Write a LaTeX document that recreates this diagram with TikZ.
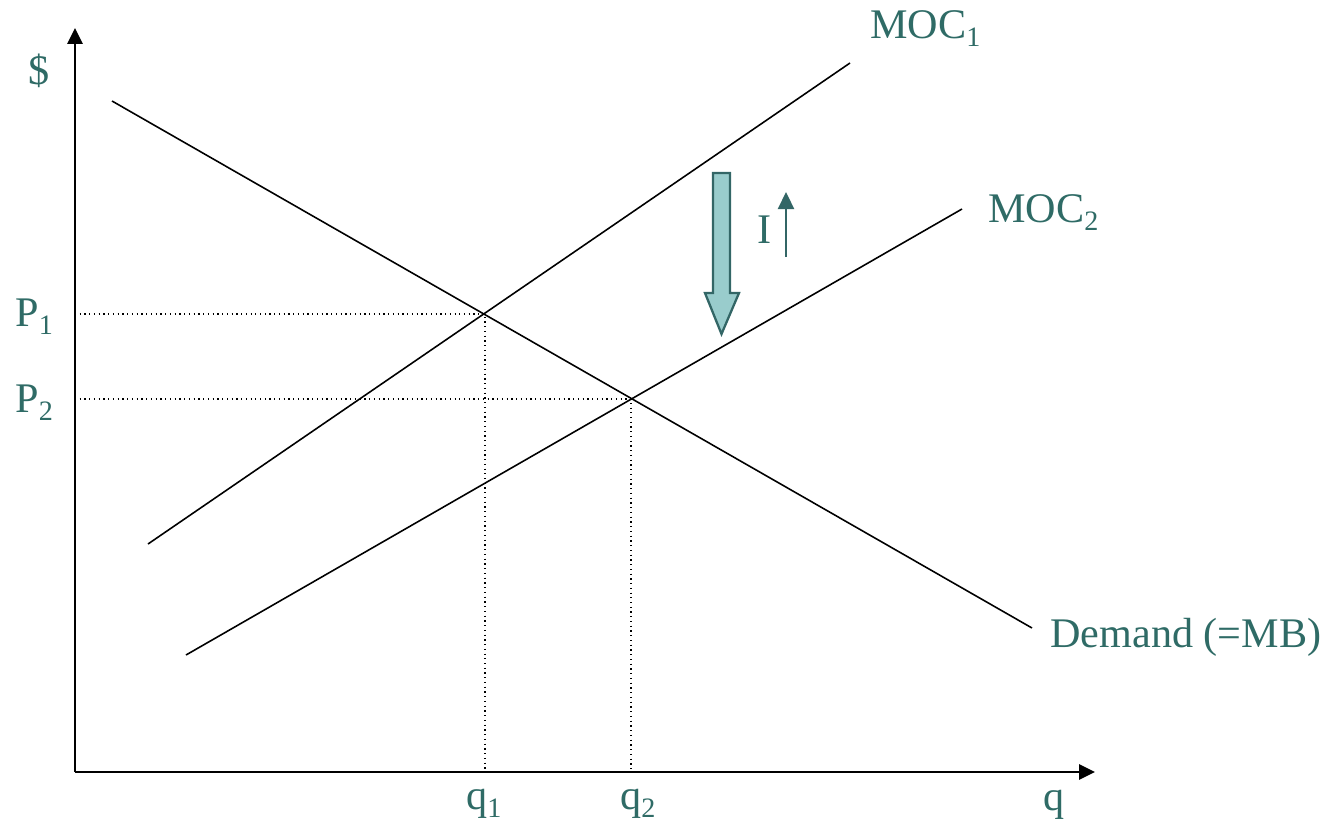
\documentclass[tikz,border=0pt]{standalone}
\usepackage{fontspec}
\setmainfont{Liberation Serif}
\usetikzlibrary{arrows.meta,positioning}
\definecolor{tealtext}{HTML}{2F6B66}
\definecolor{tealfill}{HTML}{99CCCC}
\definecolor{tealedge}{HTML}{336666}
\newcommand{\lowsub}[1]{\raisebox{-5pt}{\fontsize{16}{18}\selectfont #1}}
\tikzset{axisline/.style={line width=1.6pt,-{Triangle[length=3.2mm,width=3mm]}},
  curve/.style={line width=.9pt,black},
  guide/.style={line width=.7pt,dotted},
  lbl/.style={text=tealtext,font=\fontsize{24}{28}\selectfont,inner sep=0pt,anchor=base west},
  bigarrow/.style={draw=tealedge,fill=tealfill,line width=1.3pt,line join=miter}}

\begin{document}
\begin{tikzpicture}[x=0.02cm,y=-0.02cm]
\useasboundingbox (0,0) rectangle (1325,825);
% axes
\coordinate (O) at (75,772);
\coordinate (ytop) at (75,28);
\coordinate (xend) at (1095,772);
\draw[axisline] (O) -- (ytop);
\draw[axisline] (O) -- (xend);
% curves
\coordinate (d1) at (112,101);
\coordinate (d2) at (1032,628);
\coordinate (m1a) at (148,544);
\coordinate (m1b) at (850,63);
\coordinate (m2a) at (186,655);
\coordinate (m2b) at (962,209);
\draw[curve] (d1) -- (d2);
\draw[curve] (m1a) -- (m1b);
\draw[curve] (m2a) -- (m2b);
% equilibria
\coordinate (e1) at (485,314);
\coordinate (e2) at (631,399);
\draw[guide] (O |- e1) -- (e1) -- (e1 |- O);
\draw[guide] (O |- e2) -- (e2) -- (e2 |- O);
% labels
\node[lbl] (dollar) at (28,84) {\$};
\node[lbl] (p1) at (15,326) {P\lowsub{1}};
\node[lbl] (p2) at (15,412) {P\lowsub{2}};
\node[lbl] (q1) at (466,809) {q\lowsub{1}};
\node[lbl] (q2) at (620,809) {q\lowsub{2}};
\node[lbl] (q) at (1043,810) {q};
\node[lbl] (moc1) at (870,38) {MOC\lowsub{1}};
\node[lbl] (moc2) at (988,222) {MOC\lowsub{2}};
\node[lbl] (demand) at (1050,647) {Demand (=MB)};
\node[lbl] (inv) at (757,243) {I};
% shift of MOC
\draw[bigarrow] (713,173) -- (730,173) -- (730,293) -- (739,293) -- (721.5,334)
  -- (705,293) -- (713,293) -- cycle;
\coordinate (ua) at (786,257);
\coordinate (ub) at (786,192);
\draw[tealedge,line width=1.3pt,-{Triangle[length=3.4mm,width=3.2mm]}] (ua) -- (ub);
\end{tikzpicture}
\end{document}
